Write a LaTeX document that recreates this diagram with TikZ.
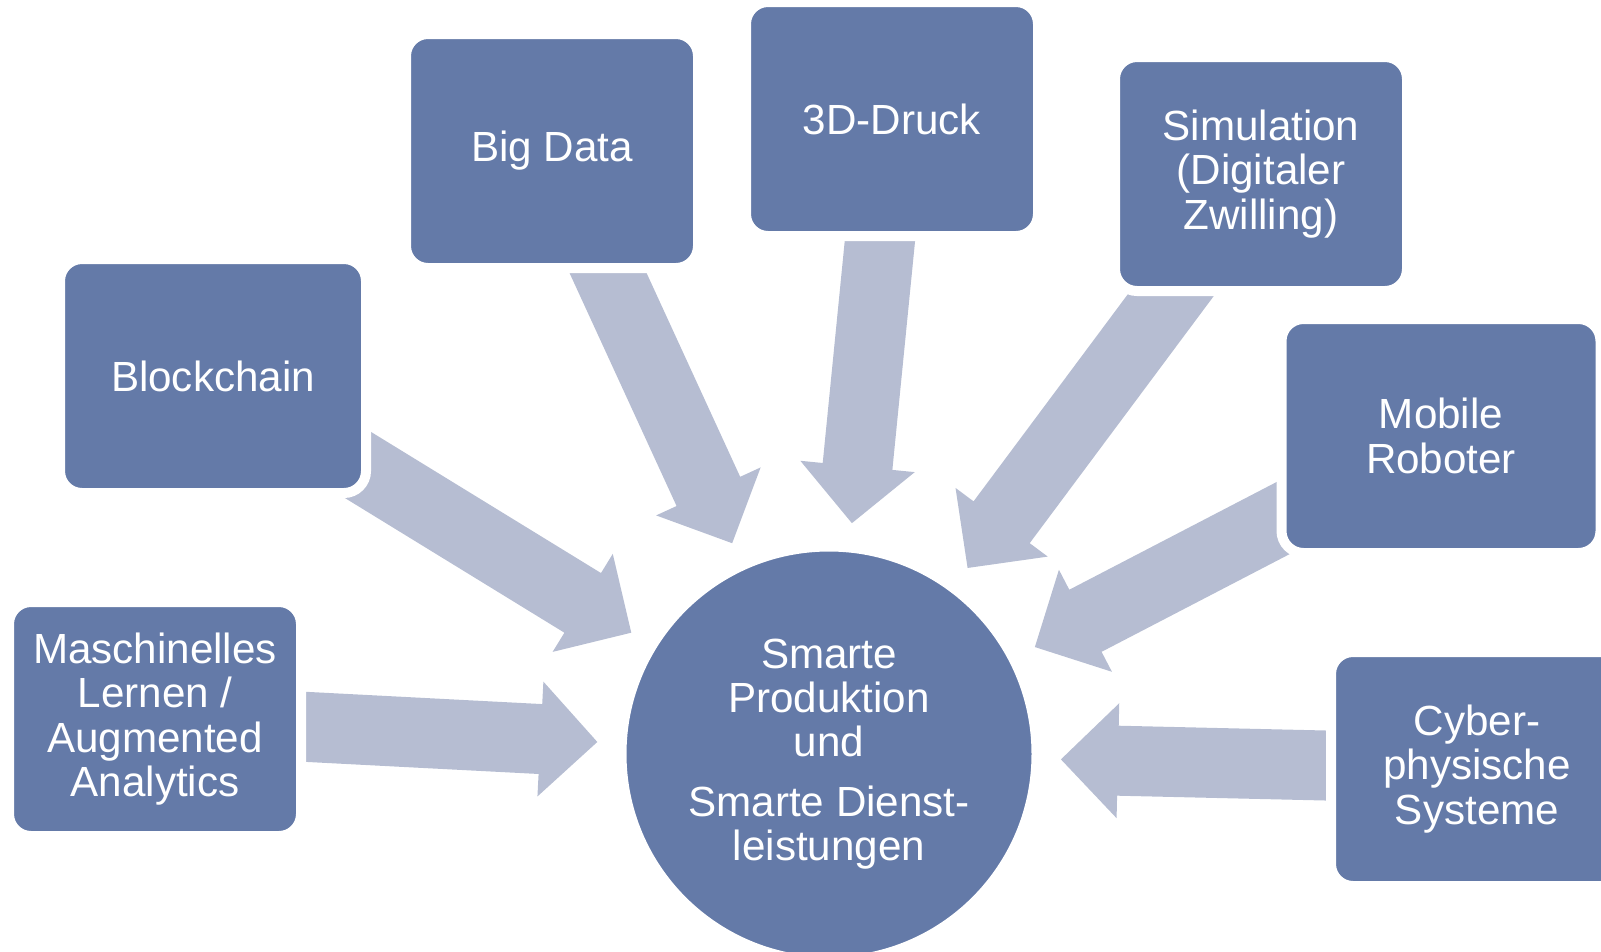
\documentclass[tikz,border=0pt]{standalone}
\usepackage{fontspec}
\setmainfont{Liberation Sans}
\usetikzlibrary{calc,backgrounds}

\definecolor{boxblue}{RGB}{100,122,168}
\definecolor{arrowgray}{RGB}{182,189,210}

\tikzset{
    topic/.style={rectangle, rounded corners=2.2mm, fill=boxblue, draw=white,
        line width=1mm, minimum width=29.2mm, minimum height=23.4mm,
        text=white, align=center, font=\fontsize{12}{12.6}\selectfont},
    hubnode/.style={circle, fill=boxblue, draw=white, line width=1mm,
        minimum size=41.5mm, inner sep=0pt, text=white, align=center,
        font=\fontsize{12}{12.6}\selectfont},
    arrowfill/.style={fill=arrowgray},
}

% 宽箭头：从方框中心指向中心圆
\newcommand{\bigarrow}[1]{%
    \path ($(hub.center)!23.2mm!(#1.center)$) coordinate (tip)
          ($(tip)!5.7mm!(#1.center)$) coordinate (neck);
    \fill[arrowfill] ($(#1.center)!3.5mm!90:(tip)$) -- ($(neck)!3.5mm!90:(tip)$)
        -- ($(neck)!5.75mm!90:(tip)$) -- (tip) -- ($(neck)!5.75mm!-90:(tip)$)
        -- ($(neck)!3.5mm!-90:(tip)$) -- ($(#1.center)!3.5mm!-90:(tip)$) -- cycle;
}

\begin{document}
\begin{tikzpicture}[x=0.1mm, y=-0.1mm]
    \useasboundingbox (0,0) rectangle (1601,951);

    % 中心圆
    \node[hubnode] (hub) at (829,754)
        {Smarte\\Produktion\\und\\[4.4pt]Smarte Dienst-\\leistungen};

    % 方框
    \node[topic] (ml) at (155,719) {Maschinelles\\Lernen /\\Augmented\\Analytics};
    \node[topic, minimum width=30.6mm] (chain) at (213,376) {Blockchain};
    \node[topic] (bigdata) at (552,151) {Big Data};
    \node[topic] (druck) at (892,119) {3D-Druck};
    \node[topic] (sim) at (1261,174) {Simulation\\(Digitaler\\Zwilling)};
    \node[topic, minimum width=31.9mm] (robot) at (1441,436) {Mobile\\Roboter};
    \node[topic] (cps) at (1477,769) {Cyber-\\physische\\Systeme};

    % 箭头（背景层）
    \begin{scope}[on background layer]
        \bigarrow{ml}
        \bigarrow{chain}
        \bigarrow{bigdata}
        \bigarrow{druck}
        \bigarrow{sim}
        \bigarrow{robot}
        \bigarrow{cps}
    \end{scope}
\end{tikzpicture}
\end{document}
